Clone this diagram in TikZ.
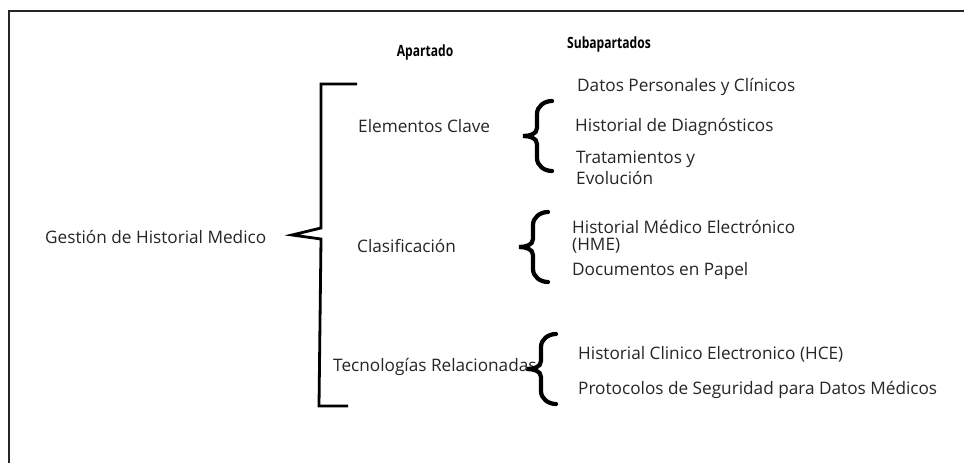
\documentclass[tikz,border=0pt]{standalone}
\usepackage{fontspec}
\setmainfont{Open Sans}
\newfontfamily\headfont[FakeStretch=0.78,BoldFont=* Bold]{Open Sans}
\definecolor{txt}{HTML}{262626}
\begin{document}
\begin{tikzpicture}[x=1pt,y=1pt,
  lbl/.style={anchor=west,inner sep=0pt,text=txt,font=\fontsize{17.2}{20}\selectfont},
  head/.style={anchor=center,inner sep=0pt,text=black,font=\headfont\fontsize{15.5}{18}\selectfont\bfseries},
  bracket/.style={line width=2.8pt,line join=miter,black},
  curly/.pic={\draw[line width=4.2pt,line cap=round,black]
     (29,35) to[out=180,in=90] (14,22) -- (14,8) to[out=-90,in=0] (0,0)
     to[out=0,in=90] (14,-8) -- (14,-22) to[out=-90,in=180] (29,-35);}]
\useasboundingbox (0,0) rectangle (964,-463);
\fill[white] (0,0) rectangle (964,-463);
% frame
\draw[line width=1.6pt,black!85] (9,-463) -- (9,-11) -- (964,-11);
% headings
\node[head] (hA) at (425,-52) {Apartado};
\node[head] (hS) at (609,-44) {Subapartados};
% root
\node[lbl] (root) at (45,-237) {Gestión de Historial Medico};
% big bracket
\draw[bracket] (357,-84) -- (321,-84) -- (321,-228) -- (292,-235) -- (321,-239) -- (319,-406) -- (348,-406);
% apartados
\node[lbl] (a1) at (358,-126) {Elementos Clave};
\node[lbl] (a2) at (357,-246) {Clasificación};
\node[lbl] (a3) at (333,-367) {Tecnologías Relacionadas};
% braces
\pic at (523,-136) {curly};
\pic at (519,-247) {curly};
\pic at (527,-369) {curly};
% subapartados
\node[lbl] (s1) at (577,-87) {Datos Personales y Clínicos};
\node[lbl] (s2) at (575,-127) {Historial de Diagnósticos};
\node[lbl] (s3) at (576,-159) {Tratamientos y};
\node[lbl] (s3b) at (576,-178) {Evolución};
\node[lbl] (s4) at (572,-227) {Historial Médico Electrónico};
\node[lbl] (s4b) at (572,-246) {(HME)};
\node[lbl] (s5) at (572,-271) {Documentos en Papel};
\node[lbl] (s6) at (578,-354) {Historial Clinico Electronico (HCE)};
\node[lbl] (s7) at (578,-390) {Protocolos de Seguridad para Datos Médicos};
\end{tikzpicture}
\end{document}
